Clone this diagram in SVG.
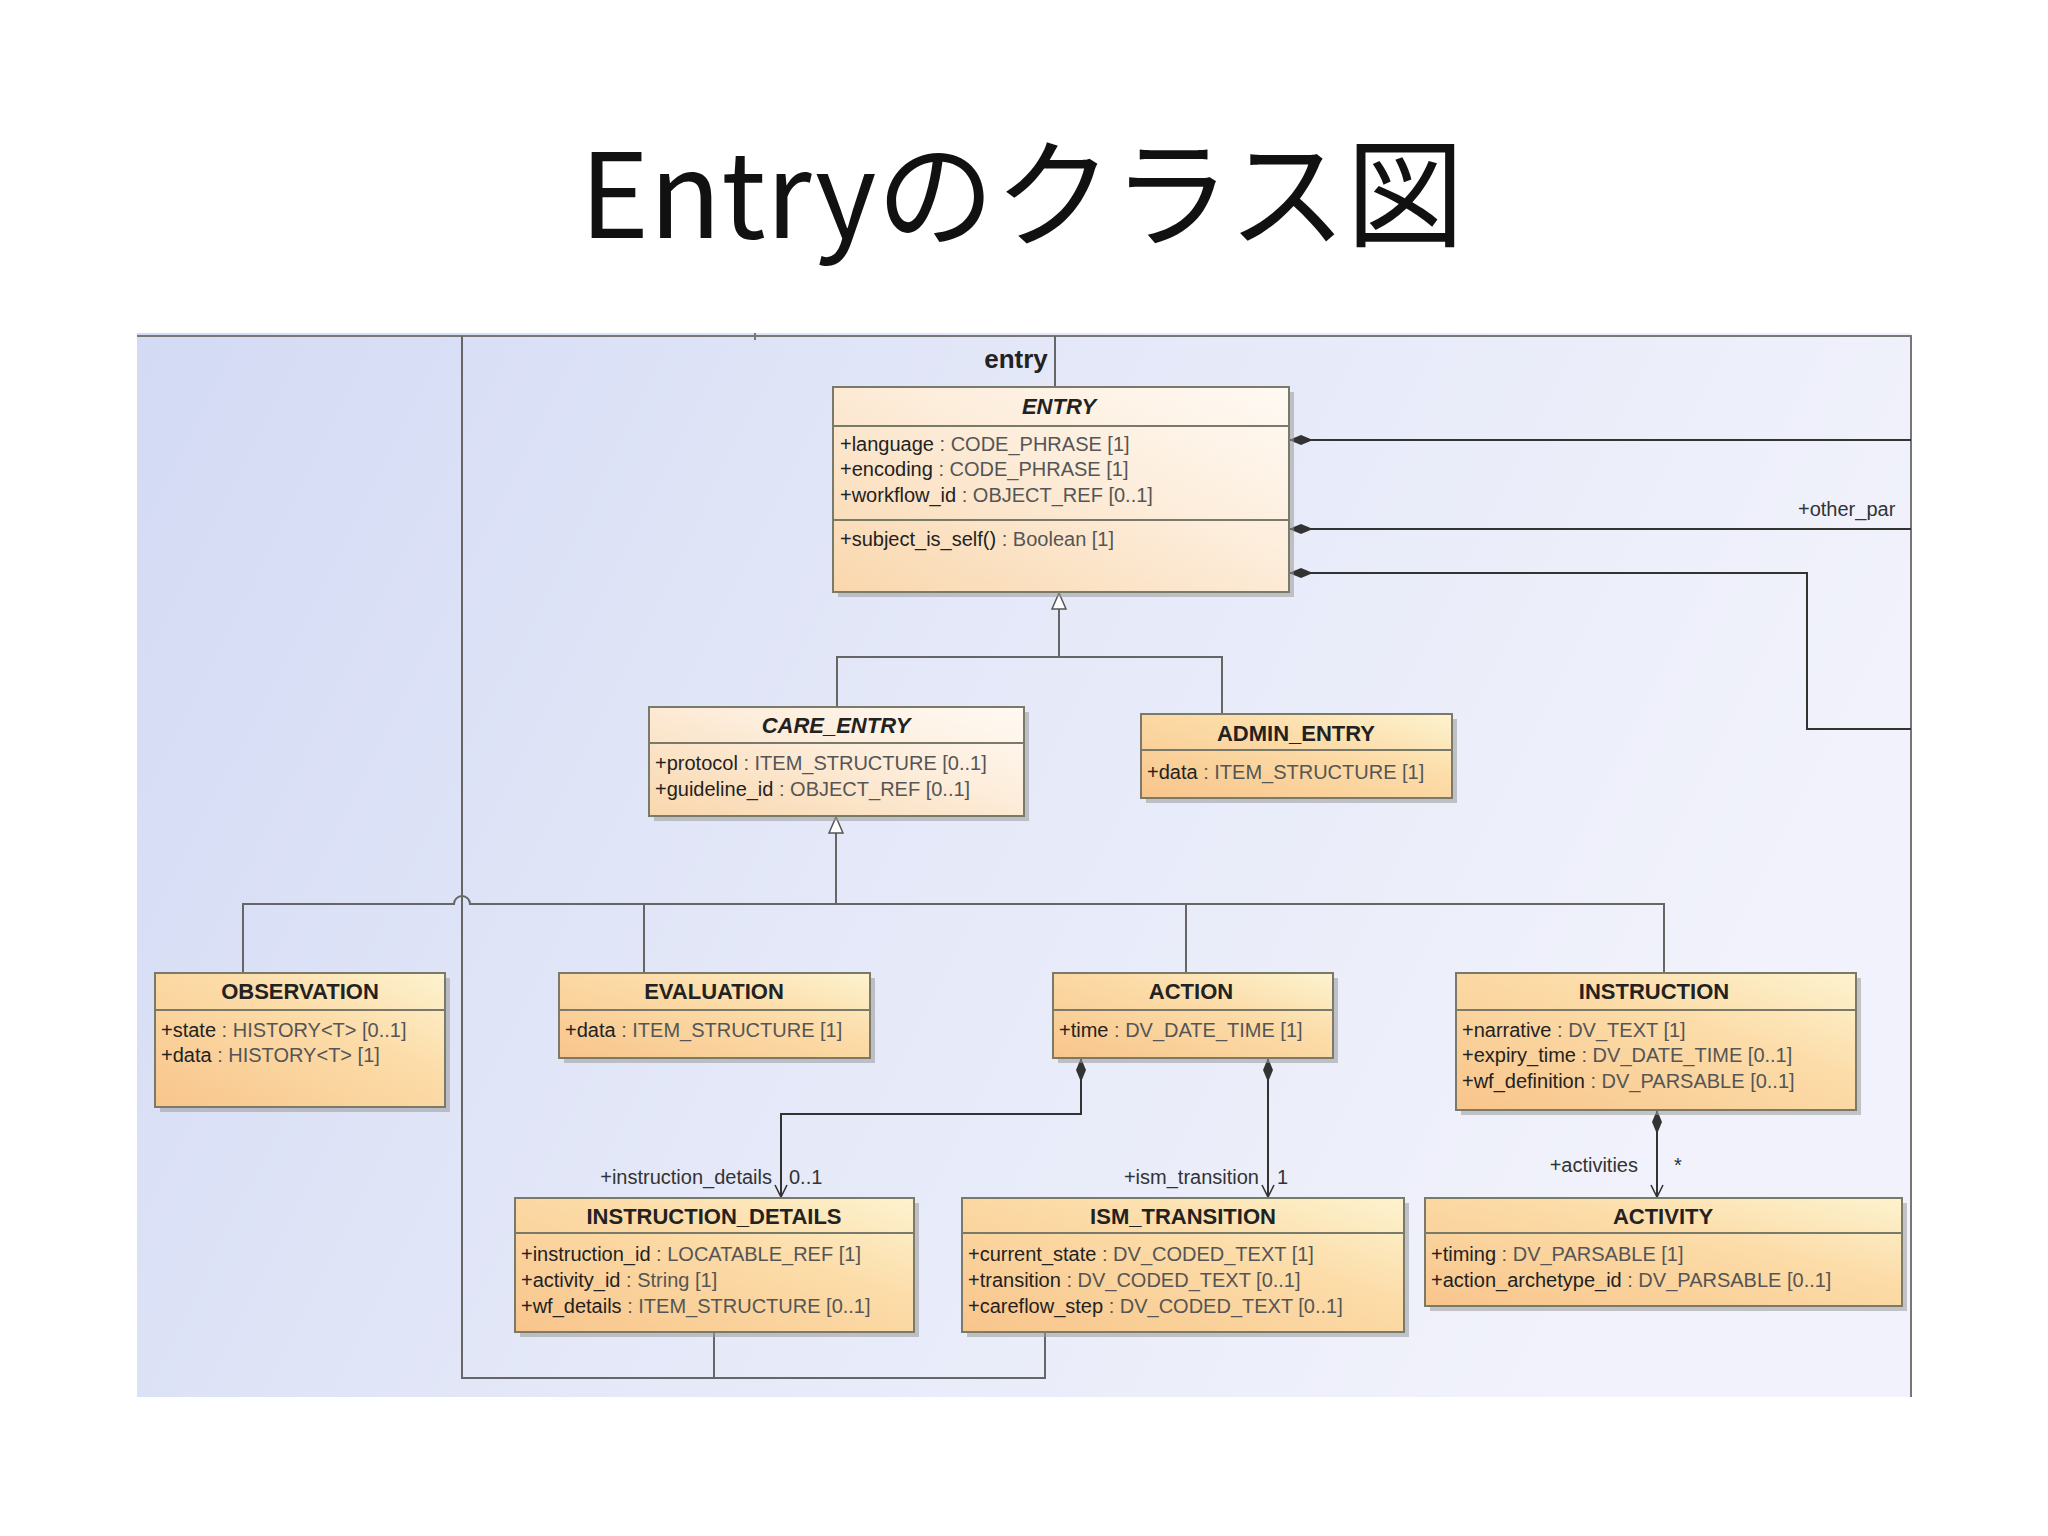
<svg xmlns="http://www.w3.org/2000/svg" width="2048" height="1536" viewBox="0 0 2048 1536">
<defs>
<linearGradient id="bg" x1="0" y1="0" x2="1" y2="0.3"><stop offset="0" stop-color="#d3daf4"/><stop offset="0.5" stop-color="#e4e8f8"/><stop offset="1" stop-color="#f1f2fb"/></linearGradient>
<linearGradient id="cls" x1="0" y1="1" x2="1" y2="0"><stop offset="0" stop-color="#f8c58c"/><stop offset="0.6" stop-color="#fcdca8"/><stop offset="1" stop-color="#fdf3cf"/></linearGradient>
<linearGradient id="abs" x1="0" y1="1" x2="1" y2="0"><stop offset="0" stop-color="#f9d7ad"/><stop offset="0.6" stop-color="#fdeedd"/><stop offset="1" stop-color="#fffaf4"/></linearGradient>
<marker id="dia" viewBox="0 0 24 12" refX="0" refY="6" markerWidth="24" markerHeight="12" markerUnits="userSpaceOnUse" orient="auto"><path d="M0,6 L12,1 L24,6 L12,11 Z" fill="#333"/></marker>
<marker id="arr" viewBox="0 0 14 14" refX="13" refY="7" markerWidth="14" markerHeight="14" markerUnits="userSpaceOnUse" orient="auto"><path d="M1,1 L13,7 L1,13" fill="none" stroke="#333" stroke-width="1.6"/></marker>
<marker id="tri" viewBox="0 0 18 16" refX="17" refY="8" markerWidth="18" markerHeight="16" markerUnits="userSpaceOnUse" orient="auto"><path d="M1,1 L17,8 L1,15 Z" fill="#fff" stroke="#555" stroke-width="1.5"/></marker>
</defs>
<style>
.box{stroke:#7a7a6a;stroke-width:2}
.sh{fill:#9a9a9a;opacity:.55}
.sep{stroke:#7a7a6a;stroke-width:2}
.hd{font-family:"Liberation Sans",Arial,sans-serif;font-weight:bold;font-size:22px;fill:#222;text-anchor:middle}
.it{font-style:italic}
.at{font-family:"Liberation Sans",Arial,sans-serif;font-size:20px;fill:#555}
.at tspan.n{fill:#222}
.ln{fill:none;stroke:#666;stroke-width:2}
.cl{fill:none;stroke:#333;stroke-width:2}
.lb{font-family:"Liberation Sans",Arial,sans-serif;font-size:20px;fill:#333}
</style>
<rect width="2048" height="1536" fill="#fff"/>
<text x="1022" y="238" font-family="'Noto Sans CJK JP','Noto Sans',sans-serif" font-size="118" text-anchor="middle" fill="#111">Entryのクラス図</text>
<rect x="137" y="333" width="1774" height="1064" fill="url(#bg)"/>
<path d="M137,336 H1911 V1397" fill="none" stroke="#777" stroke-width="2"/>
<line x1="755" y1="333" x2="755" y2="340" stroke="#777" stroke-width="2"/>
<text x="1016" y="368" font-family="'Liberation Sans',Arial,sans-serif" font-weight="bold" font-size="26" text-anchor="middle" fill="#222">entry</text>
<g id="connectors">
<line class="ln" x1="1055" y1="336" x2="1055" y2="387"/>
<path class="ln" d="M462,336 V1378 H1045 V1332"/>
<line class="ln" x1="714" y1="1332" x2="714" y2="1378"/>
<path class="ln" d="M837,707 V657 H1222 V714"/>
<line class="ln" x1="1059" y1="657" x2="1059" y2="593" marker-end="url(#tri)"/>
<path class="ln" d="M243,973 V904 H454 A8,8 0 0 1 470,904 H1664 V973"/>
<line class="ln" x1="644" y1="904" x2="644" y2="973"/>
<line class="ln" x1="1186" y1="904" x2="1186" y2="973"/>
<line class="ln" x1="836" y1="904" x2="836" y2="817" marker-end="url(#tri)"/>
<line class="cl" x1="1289" y1="440" x2="1911" y2="440" marker-start="url(#dia)"/>
<line class="cl" x1="1289" y1="529" x2="1911" y2="529" marker-start="url(#dia)"/>
<path class="cl" d="M1289,573 H1807 V729 H1911" marker-start="url(#dia)"/>
<text class="lb" x="1798" y="516">+other_par</text>
<path class="cl" d="M1081,1058 V1114 H781 V1197" marker-start="url(#dia)" marker-end="url(#arr)"/>
<text class="lb" x="772" y="1184" text-anchor="end">+instruction_details</text>
<text class="lb" x="789" y="1184">0..1</text>
<line class="cl" x1="1268" y1="1058" x2="1268" y2="1197" marker-start="url(#dia)" marker-end="url(#arr)"/>
<text class="lb" x="1259" y="1184" text-anchor="end">+ism_transition</text>
<text class="lb" x="1277" y="1184">1</text>
<line class="cl" x1="1657" y1="1110" x2="1657" y2="1197" marker-start="url(#dia)" marker-end="url(#arr)"/>
<text class="lb" x="1638" y="1172" text-anchor="end">+activities</text>
<text class="lb" x="1674" y="1172">*</text>
</g>
<g id="ENTRY">
<rect class="sh" x="838" y="392" width="456" height="205"/>
<rect class="box" x="833" y="387" width="456" height="205" fill="url(#abs)"/>
<text class="hd it" x="1059" y="414">ENTRY</text>
<line class="sep" x1="833" y1="426" x2="1289" y2="426"/>
<text class="at" x="840" y="451"><tspan class="n">+language</tspan> : CODE_PHRASE [1]</text>
<text class="at" x="840" y="476"><tspan class="n">+encoding</tspan> : CODE_PHRASE [1]</text>
<text class="at" x="840" y="502"><tspan class="n">+workflow_id</tspan> : OBJECT_REF [0..1]</text>
<line class="sep" x1="833" y1="520" x2="1289" y2="520"/>
<text class="at" x="840" y="546"><tspan class="n">+subject_is_self()</tspan> : Boolean [1]</text>
</g>
<g id="CARE_ENTRY">
<rect class="sh" x="654" y="712" width="375" height="109"/>
<rect class="box" x="649" y="707" width="375" height="109" fill="url(#abs)"/>
<text class="hd it" x="836" y="733">CARE_ENTRY</text>
<line class="sep" x1="649" y1="743" x2="1024" y2="743"/>
<text class="at" x="655" y="770"><tspan class="n">+protocol</tspan> : ITEM_STRUCTURE [0..1]</text>
<text class="at" x="655" y="796"><tspan class="n">+guideline_id</tspan> : OBJECT_REF [0..1]</text>
</g>
<g id="ADMIN_ENTRY">
<rect class="sh" x="1146" y="719" width="311" height="84"/>
<rect class="box" x="1141" y="714" width="311" height="84" fill="url(#cls)"/>
<text class="hd" x="1296" y="741">ADMIN_ENTRY</text>
<line class="sep" x1="1141" y1="750" x2="1452" y2="750"/>
<text class="at" x="1147" y="779"><tspan class="n">+data</tspan> : ITEM_STRUCTURE [1]</text>
</g>
<g id="OBSERVATION">
<rect class="sh" x="160" y="978" width="290" height="134"/>
<rect class="box" x="155" y="973" width="290" height="134" fill="url(#cls)"/>
<text class="hd" x="300" y="999">OBSERVATION</text>
<line class="sep" x1="155" y1="1010" x2="445" y2="1010"/>
<text class="at" x="161" y="1037"><tspan class="n">+state</tspan> : HISTORY&lt;T&gt; [0..1]</text>
<text class="at" x="161" y="1062"><tspan class="n">+data</tspan> : HISTORY&lt;T&gt; [1]</text>
</g>
<g id="EVALUATION">
<rect class="sh" x="564" y="978" width="311" height="85"/>
<rect class="box" x="559" y="973" width="311" height="85" fill="url(#cls)"/>
<text class="hd" x="714" y="999">EVALUATION</text>
<line class="sep" x1="559" y1="1010" x2="870" y2="1010"/>
<text class="at" x="565" y="1037"><tspan class="n">+data</tspan> : ITEM_STRUCTURE [1]</text>
</g>
<g id="ACTION">
<rect class="sh" x="1058" y="978" width="280" height="85"/>
<rect class="box" x="1053" y="973" width="280" height="85" fill="url(#cls)"/>
<text class="hd" x="1191" y="999">ACTION</text>
<line class="sep" x1="1053" y1="1010" x2="1333" y2="1010"/>
<text class="at" x="1059" y="1037"><tspan class="n">+time</tspan> : DV_DATE_TIME [1]</text>
</g>
<g id="INSTRUCTION">
<rect class="sh" x="1461" y="978" width="400" height="137"/>
<rect class="box" x="1456" y="973" width="400" height="137" fill="url(#cls)"/>
<text class="hd" x="1654" y="999">INSTRUCTION</text>
<line class="sep" x1="1456" y1="1010" x2="1856" y2="1010"/>
<text class="at" x="1462" y="1037"><tspan class="n">+narrative</tspan> : DV_TEXT [1]</text>
<text class="at" x="1462" y="1062"><tspan class="n">+expiry_time</tspan> : DV_DATE_TIME [0..1]</text>
<text class="at" x="1462" y="1088"><tspan class="n">+wf_definition</tspan> : DV_PARSABLE [0..1]</text>
</g>
<g id="INSTRUCTION_DETAILS">
<rect class="sh" x="520" y="1203" width="399" height="134"/>
<rect class="box" x="515" y="1198" width="399" height="134" fill="url(#cls)"/>
<text class="hd" x="714" y="1224">INSTRUCTION_DETAILS</text>
<line class="sep" x1="515" y1="1233" x2="914" y2="1233"/>
<text class="at" x="521" y="1261"><tspan class="n">+instruction_id</tspan> : LOCATABLE_REF [1]</text>
<text class="at" x="521" y="1287"><tspan class="n">+activity_id</tspan> : String [1]</text>
<text class="at" x="521" y="1313"><tspan class="n">+wf_details</tspan> : ITEM_STRUCTURE [0..1]</text>
</g>
<g id="ISM_TRANSITION">
<rect class="sh" x="967" y="1203" width="442" height="134"/>
<rect class="box" x="962" y="1198" width="442" height="134" fill="url(#cls)"/>
<text class="hd" x="1183" y="1224">ISM_TRANSITION</text>
<line class="sep" x1="962" y1="1233" x2="1404" y2="1233"/>
<text class="at" x="968" y="1261"><tspan class="n">+current_state</tspan> : DV_CODED_TEXT [1]</text>
<text class="at" x="968" y="1287"><tspan class="n">+transition</tspan> : DV_CODED_TEXT [0..1]</text>
<text class="at" x="968" y="1313"><tspan class="n">+careflow_step</tspan> : DV_CODED_TEXT [0..1]</text>
</g>
<g id="ACTIVITY">
<rect class="sh" x="1430" y="1203" width="477" height="108"/>
<rect class="box" x="1425" y="1198" width="477" height="108" fill="url(#cls)"/>
<text class="hd" x="1663" y="1224">ACTIVITY</text>
<line class="sep" x1="1425" y1="1233" x2="1902" y2="1233"/>
<text class="at" x="1431" y="1261"><tspan class="n">+timing</tspan> : DV_PARSABLE [1]</text>
<text class="at" x="1431" y="1287"><tspan class="n">+action_archetype_id</tspan> : DV_PARSABLE [0..1]</text>
</g>
</svg>
